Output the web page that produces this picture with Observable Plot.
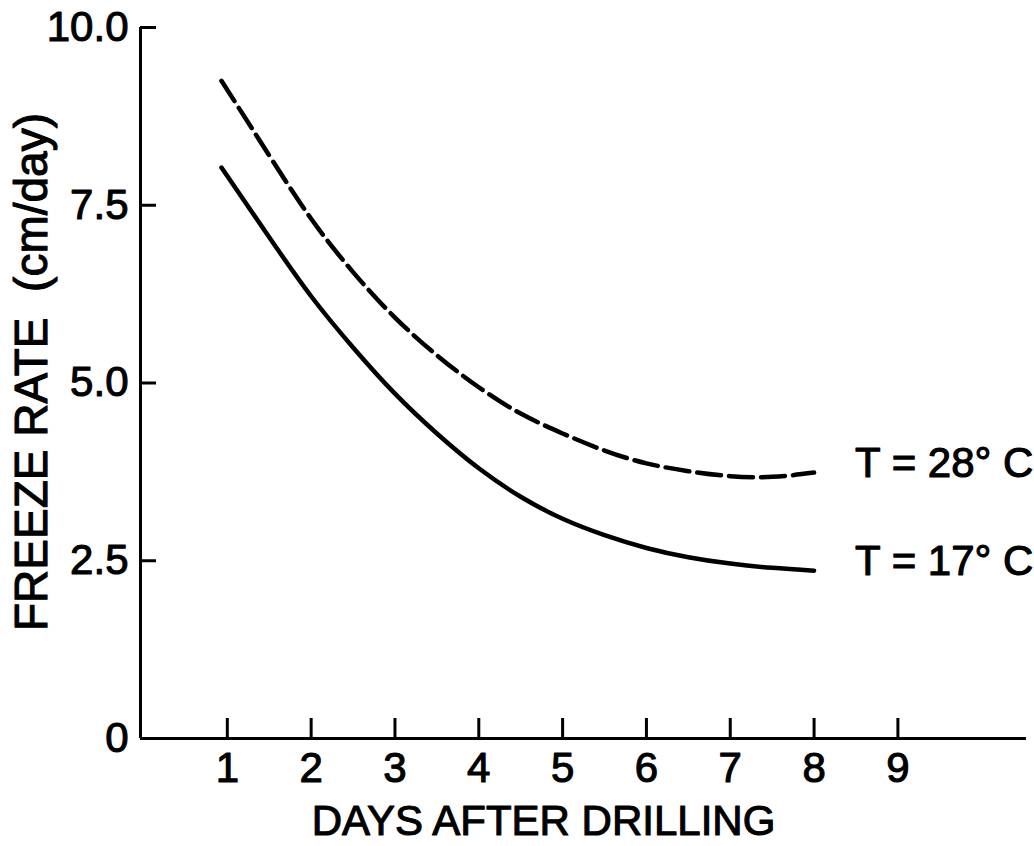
<!DOCTYPE html>
<html>
<head>
<meta charset="utf-8">
<script src="https://cdn.jsdelivr.net/npm/d3@7"></script>
<script src="https://cdn.jsdelivr.net/npm/@observablehq/plot@0.6"></script>
<style>
  html, body { margin: 0; padding: 0; background: #fff; }
  svg text { stroke: #000; stroke-width: 1.1px; stroke-linejoin: round; }
</style>
</head>
<body>
<div id="chart"></div>
<script>
// Days after drilling at which the curves were read
const days = [0.93, 1.5, 2, 2.5, 3, 3.5, 4, 4.5, 5, 5.5, 6, 6.5, 7, 7.5, 8];
// Freeze rate (cm/day), T = 28° C (dashed)
const rate28 = [9.25, 8.2, 7.31, 6.56, 5.92, 5.39, 4.94, 4.57, 4.29, 4.05, 3.87, 3.76, 3.69, 3.68, 3.74];
// Freeze rate (cm/day), T = 17° C (solid)
const rate17 = [8.03, 7.05, 6.22, 5.5, 4.85, 4.29, 3.8, 3.4, 3.09, 2.86, 2.68, 2.55, 2.46, 2.4, 2.36];

const xTicks = [1, 2, 3, 4, 5, 6, 7, 8, 9];
const xTickLabels = ["1", "2", "3", "4", "5", "6", "7", "8", "9"];
const yTicks = [0, 2.5, 5, 7.5, 10];
const yTickLabels = ["0", "2.5", "5.0", "7.5", "10.0"];
const seriesLabels = ["T = 28° C", "T = 17° C"];
const xLabel = "DAYS AFTER DRILLING";
const yLabel = "FREEZE RATE  (cm/day)";

const d28 = days.map((d, i) => ({day: d, rate: rate28[i]}));
const d17 = days.map((d, i) => ({day: d, rate: rate17[i]}));
const ends = [
  {day: days[days.length - 1], rate: rate28[rate28.length - 1], label: seriesLabels[0]},
  {day: days[days.length - 1], rate: rate17[rate17.length - 1], label: seriesLabels[1]}
];

const chart = Plot.plot({
  width: 1034,
  height: 846,
  marginLeft: 143,
  marginRight: 5,
  marginTop: 27,
  marginBottom: 108,
  style: {
    fontFamily: "'Liberation Sans', Arial, sans-serif",
    fontSize: "42px",
    color: "#000",
    background: "#fff"
  },
  x: {domain: [0, 10.57], axis: null, label: null},
  y: {domain: [0, 10], axis: null, label: null},
  marks: [
    // axis lines
    Plot.ruleX([0], {y1: 0, y2: 10, stroke: "#000", strokeWidth: 3, dx: -3}),
    Plot.ruleY([0], {x1: 0, x2: 10.57, stroke: "#000", strokeWidth: 3, dx: -3}),
    // inward ticks
    Plot.axisY(yTicks, {anchor: "left", tickSize: -16, text: null, label: null, stroke: "#000", strokeWidth: 3, dx: -3}),
    Plot.axisX(xTicks, {anchor: "bottom", tickSize: -20, text: null, label: null, stroke: "#000", strokeWidth: 3}),
    // tick labels
    Plot.axisY(yTicks, {anchor: "left", tickSize: 0, tickPadding: 15, label: null, tickFormat: (d, i) => yTickLabels[i], fill: "#000", fontSize: 42}),
    Plot.axisX(xTicks, {anchor: "bottom", tickSize: 0, tickPadding: 14, label: null, tickFormat: (d, i) => xTickLabels[i], fill: "#000", fontSize: 42}),
    // curves
    Plot.line(d28, {x: "day", y: "rate", stroke: "#000", strokeWidth: 4.5, strokeDasharray: "24,8", curve: "natural", strokeLinecap: "round"}),
    Plot.line(d17, {x: "day", y: "rate", stroke: "#000", strokeWidth: 4.5, curve: "natural", strokeLinecap: "round"}),
    // series labels
    Plot.text(ends, {x: "day", y: "rate", text: "label", textAnchor: "start", dx: 41, dy: -9, fill: "#000", fontSize: 42}),
    // axis titles
    Plot.text([xLabel], {frameAnchor: "bottom", textAnchor: "middle", lineAnchor: "middle", dx: -43, dy: 83, fill: "#000", fontSize: 42}),
    Plot.text([yLabel], {frameAnchor: "left", textAnchor: "middle", lineAnchor: "middle", dx: -111, dy: -11, rotate: -90, fill: "#000", fontSize: 46})
  ]
});
document.getElementById("chart").appendChild(chart);
</script>
</body>
</html>
